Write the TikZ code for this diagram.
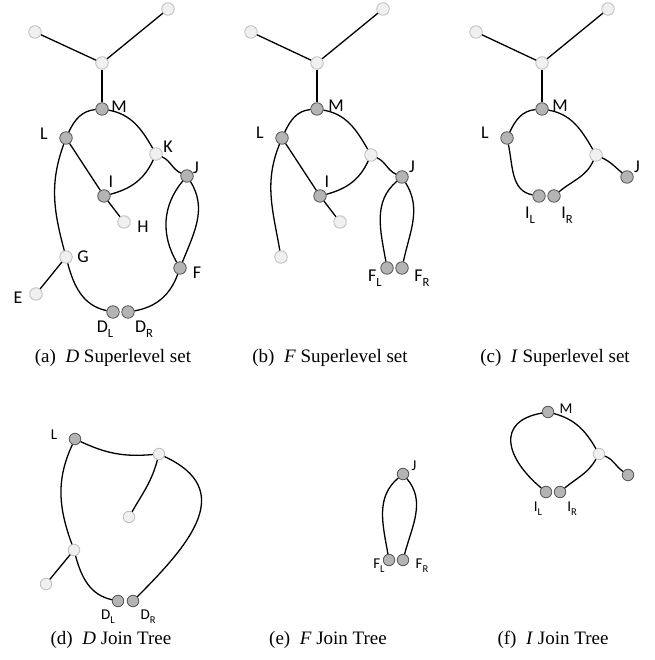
\documentclass[tikz,border=0pt]{standalone}
\usepackage{fontspec}
\setmainfont{Liberation Serif}
\newfontfamily\lblfont{Carlito}
\usetikzlibrary{positioning}
\definecolor{CritFill}{HTML}{B4B4B4}
\definecolor{CritLine}{HTML}{555555}
\definecolor{RegFill}{HTML}{F0F0F0}
\definecolor{RegLine}{HTML}{BDBDBD}
\newcommand{\lsub}[2]{#1\lower0.25em\hbox{\scalebox{0.7}{#2}}}
\tikzset{
    crit/.style={circle, draw=CritLine, fill=CritFill, line width=0.8pt, inner sep=0pt, minimum size=12.5pt},
    reg/.style={circle, draw=RegLine, fill=RegFill, line width=0.8pt, inner sep=0pt, minimum size=12.5pt},
    small/.style={minimum size=11.5pt},
    edge/.style={line width=1.3pt, black},
    lbl/.style={font=\lblfont\fontsize{18}{18}\selectfont, inner sep=0pt},
    slbl/.style={font=\lblfont\fontsize{15}{15}\selectfont, inner sep=0pt},
    caption/.style={font=\fontsize{19}{19}\selectfont, inner sep=0pt},
}

\begin{document}
\begin{tikzpicture}[x=1pt, y=1pt]
    \useasboundingbox (0,0) rectangle (654,660);

    % (a) D Superlevel set
    \node[reg]  (atl) at (35,628) {};
    \node[reg]  (atr) at (168,651) {};
    \node[reg]  (aj)  at (102,597) {};
    \node[crit] (aM)  at (102,551) {};
    \node[crit] (aL)  at (66,522) {};
    \node[reg]  (aK)  at (156,506) {};
    \node[crit] (aJ)  at (187,484) {};
    \node[crit] (aI)  at (104,464) {};
    \node[reg]  (aH)  at (124,438) {};
    \node[reg]  (aG)  at (66,403) {};
    \node[reg]  (aE)  at (36,366) {};
    \node[crit] (aF)  at (180,392) {};
    \node[crit] (aDL) at (113,348) {};
    \node[crit] (aDR) at (128,348) {};

    \draw[edge] (atl) -- (aj);
    \draw[edge] (atr) -- (aj);
    \draw[edge] (aj) -- (aM);
    \draw[edge] (aM) to[out=185, in=65] (aL);
    \draw[edge] (aM) to[out=-10, in=120] (aK);
    \draw[edge] (aL) -- (aI);
    \draw[edge] (aK) to[out=-115, in=15] (aI);
    \draw[edge] (aK) to[out=-25, in=155] (aJ);
    \draw[edge] (aJ) to[out=-130, in=120] (aF);
    \draw[edge] (aJ) to[out=-58, in=68] (aF);
    \draw[edge] (aI) -- (aH);
    \draw[edge] (aL) to[out=-110, in=105] (aG);
    \draw[edge] (aG) -- (aE);
    \draw[edge] (aG) to[out=-75, in=168] (aDL);
    \draw[edge] (aF) to[out=-110, in=10] (aDR);

    \node[lbl] (aMl)  at (119,553) {M};
    \node[lbl] (aLl)  at (44,526) {L};
    \node[lbl] (aKl)  at (168,513) {K};
    \node[lbl] (aJl)  at (196,492) {J};
    \node[lbl] (aIl)  at (111,478) {I};
    \node[lbl] (aHl)  at (143,433) {H};
    \node[lbl] (aGl)  at (83,403) {G};
    \node[lbl] (aEl)  at (18,362) {E};
    \node[lbl] (aFl)  at (197,387) {F};
    \node[lbl] (aDLl) at (105,331) {\lsub{D}{L}};
    \node[lbl] (aDRl) at (144,331) {\lsub{D}{R}};
    \node[caption] (acap) at (113,302) {(a)\hspace{0.5em}\textit{D} Superlevel set};

    % (b) F Superlevel set
    \node[reg]  (btl) at (251,628) {};
    \node[reg]  (btr) at (383,651) {};
    \node[reg]  (bj)  at (317,597) {};
    \node[crit] (bM)  at (317,551) {};
    \node[crit] (bL)  at (282,522) {};
    \node[reg]  (bK)  at (371,505) {};
    \node[crit] (bJ)  at (402,483) {};
    \node[crit] (bI)  at (320,464) {};
    \node[reg]  (bH)  at (340,438) {};
    \node[reg]  (bG)  at (281,403) {};
    \node[crit] (bFL) at (387,392) {};
    \node[crit] (bFR) at (402,392) {};

    \draw[edge] (btl) -- (bj);
    \draw[edge] (btr) -- (bj);
    \draw[edge] (bj) -- (bM);
    \draw[edge] (bM) to[out=185, in=65] (bL);
    \draw[edge] (bM) to[out=-10, in=120] (bK);
    \draw[edge] (bL) -- (bI);
    \draw[edge] (bK) to[out=-115, in=15] (bI);
    \draw[edge] (bK) to[out=-25, in=155] (bJ);
    \draw[edge] (bI) -- (bH);
    \draw[edge] (bL) to[out=-112, in=100] (bG);
    \draw[edge] (bJ) to[out=-140, in=100] (bFL);
    \draw[edge] (bJ) to[out=-58, in=78] (bFR);

    \node[lbl] (bMl)  at (336,554) {M};
    \node[lbl] (bLl)  at (260,527) {L};
    \node[lbl] (bIl)  at (327,478) {I};
    \node[lbl] (bJl)  at (412,493) {J};
    \node[lbl] (bFLl) at (375,382) {\lsub{F}{L}};
    \node[lbl] (bFRl) at (422,382) {\lsub{F}{R}};
    \node[caption] (bcap) at (330,302) {(b)\hspace{0.5em}\textit{F} Superlevel set};

    % (c) I Superlevel set
    \node[reg]  (ctl) at (476,628) {};
    \node[reg]  (ctr) at (608,651) {};
    \node[reg]  (cj)  at (542,597) {};
    \node[crit] (cM)  at (542,551) {};
    \node[crit] (cL)  at (507,522) {};
    \node[reg]  (cK)  at (596,505) {};
    \node[crit] (cJ)  at (627,483) {};
    \node[crit] (cIL) at (539,464) {};
    \node[crit] (cIR) at (554,464) {};

    \draw[edge] (ctl) -- (cj);
    \draw[edge] (ctr) -- (cj);
    \draw[edge] (cj) -- (cM);
    \draw[edge] (cM) to[out=185, in=65] (cL);
    \draw[edge] (cM) to[out=-10, in=120] (cK);
    \draw[edge] (cL) to[out=-78, in=170] (cIL);
    \draw[edge] (cK) to[out=-115, in=40] (cIR);
    \draw[edge] (cK) to[out=-25, in=140] (cJ);

    \node[lbl] (cMl)  at (560,554) {M};
    \node[lbl] (cLl)  at (485,527) {L};
    \node[lbl] (cJl)  at (637,493) {J};
    \node[lbl] (cILl) at (530,445) {\lsub{I}{L}};
    \node[lbl] (cIRl) at (567,445) {\lsub{I}{R}};
    \node[caption] (ccap) at (555,302) {(c)\hspace{0.5em}\textit{I} Superlevel set};

    % (d) D Join Tree
    \node[crit, small] (dL)  at (75,221) {};
    \node[reg, small]  (dK)  at (159,206) {};
    \node[reg, small]  (dH)  at (129,143) {};
    \node[reg, small]  (dG)  at (74,110) {};
    \node[reg, small]  (dE)  at (46,76) {};
    \node[crit, small] (dDL) at (118,59) {};
    \node[crit, small] (dDR) at (133,59) {};

    \draw[edge] (dL) to[out=-25, in=185] (dK);
    \draw[edge] (dK) to[out=-105, in=60] (dH);
    \draw[edge] (dK) to[out=-25, in=45, looseness=1.4] (dDR);
    \draw[edge] (dL) to[out=-115, in=110] (dG);
    \draw[edge] (dG) -- (dE);
    \draw[edge] (dG) to[out=-75, in=168] (dDL);

    \node[slbl] (dLl)  at (54,225) {L};
    \node[slbl] (dDLl) at (108,43) {\lsub{D}{L}};
    \node[slbl] (dDRl) at (148,43) {\lsub{D}{R}};
    \node[caption] (dcap) at (111,20) {(d)\hspace{0.5em}\textit{D} Join Tree};

    % (e) F Join Tree
    \node[crit, small] (eJ)  at (403,186) {};
    \node[crit, small] (eFL) at (389,100) {};
    \node[crit, small] (eFR) at (403,100) {};

    \draw[edge] (eJ) to[out=-140, in=100] (eFL);
    \draw[edge] (eJ) to[out=-50, in=75] (eFR);

    \node[slbl] (eJl)  at (414,194) {J};
    \node[slbl] (eFLl) at (379,94) {\lsub{F}{L}};
    \node[slbl] (eFRl) at (422,94) {\lsub{F}{R}};
    \node[caption] (ecap) at (328,20) {(e)\hspace{0.5em}\textit{F} Join Tree};

    % (f) I Join Tree
    \node[crit, small] (fM)  at (548,248) {};
    \node[reg, small]  (fK)  at (599,206) {};
    \node[crit, small] (fJ)  at (628,185) {};
    \node[crit, small] (fIL) at (546,168) {};
    \node[crit, small] (fIR) at (560,168) {};

    \draw[edge] (fM) to[out=190, in=140, looseness=1.6] (fIL);
    \draw[edge] (fM) to[out=-15, in=120] (fK);
    \draw[edge] (fK) to[out=-120, in=40] (fIR);
    \draw[edge] (fK) to[out=-20, in=145] (fJ);

    \node[slbl] (fMl)  at (566,251) {M};
    \node[slbl] (fILl) at (538,151) {\lsub{I}{L}};
    \node[slbl] (fIRl) at (572,151) {\lsub{I}{R}};
    \node[caption] (fcap) at (553,20) {(f)\hspace{0.5em}\textit{I} Join Tree};
\end{tikzpicture}
\end{document}
